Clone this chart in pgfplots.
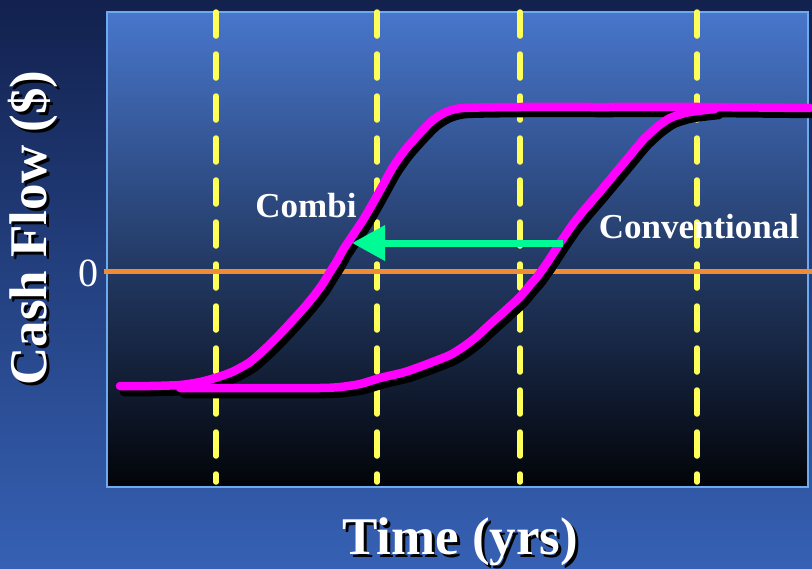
\documentclass[border=0pt]{standalone}
\usepackage{pgfplots}
\pgfplotsset{compat=1.18}
\usepackage{fontspec}
\setmainfont{Liberation Serif}
\usetikzlibrary{arrows.meta}

\definecolor{bgtop}{RGB}{18,33,78}
\definecolor{bgbot}{RGB}{54,97,180}
\definecolor{pltop}{RGB}{72,118,204}
\definecolor{plmid}{RGB}{48,76,134}
\definecolor{plbot}{RGB}{2,4,8}
\definecolor{frame}{RGB}{110,170,240}
\definecolor{cashmag}{RGB}{255,0,255}
\definecolor{dashyel}{RGB}{255,255,90}
\definecolor{zeroor}{RGB}{240,140,55}
\definecolor{shiftgr}{RGB}{0,250,150}

% cash-flow profiles (time, level) in drawing units, y measured downward
\pgfplotstableread{
x y
120 386
150 386
180 385
200 382
215 378
232 372
250 362
267 347
280 334
293 320
303 309
313 297
322 285
330 272
337 261
343 250
353 235
363 220
373 203
383 185
393 167
405 150
420 133
433 120
446 112
463 108
520 107
600 107
700 107
810 108
}\combi

\pgfplotstableread{
x y
180 388
250 388
320 388
340 387
360 384
380 378
405 372
430 363
450 355
463 347
475 338
487 327
497 318
507 309
520 297
530 285
537 277
547 263
560 243
573 224
585 209
598 194
613 176
628 158
643 140
657 127
670 118
685 113
697 111
715 109
}\conventional

\newcommand{\bigbold}{\fontsize{53}{60}\selectfont\bfseries}
\newcommand{\midbold}{\fontsize{35}{40}\selectfont\bfseries}

\begin{document}
\begin{tikzpicture}[x=1pt,y=1pt]
\shade[top color=bgtop, bottom color=bgbot] (0,0) rectangle (812,-569);
\begin{axis}[
  at={(107pt,-487pt)}, anchor=south west,
  width=701pt, height=475pt, scale only axis,
  xmin=107, xmax=808, ymin=12, ymax=487, y dir=reverse,
  clip=false,
  axis background/.style={shade, top color=pltop, middle color=plmid, bottom color=plbot},
  axis line style={draw=frame, line width=2pt},
  xtick=\empty, ytick={271}, yticklabels={0},
  major tick length=0pt,
  yticklabel style={font=\fontsize{40}{40}\selectfont, text=white, xshift=-5pt, yshift=-2pt},
]
% yellow time markers
\addplot[dashyel, line width=5.5pt, line cap=round, dash pattern=on 24pt off 18pt] coordinates {(216,12) (216,482)};
\addplot[dashyel, line width=5.5pt, line cap=round, dash pattern=on 24pt off 18pt] coordinates {(377,12) (377,482)};
\addplot[dashyel, line width=5.5pt, line cap=round, dash pattern=on 24pt off 18pt] coordinates {(520,12) (520,482)};
\addplot[dashyel, line width=5.5pt, line cap=round, dash pattern=on 24pt off 18pt] coordinates {(697,12) (697,482)};
% zero line
\addplot[zeroor, line width=5pt] coordinates {(104,271) (812,271)};
% shadows
\addplot[black, smooth, tension=0.4, line width=8.5pt, line cap=round, line join=round, xshift=4pt, yshift=-6pt] table {\conventional};
\addplot[black, smooth, tension=0.4, line width=8.5pt, line cap=round, line join=round, xshift=4pt, yshift=-6pt] table {\combi};
% profiles
\addplot[cashmag, smooth, tension=0.4, line width=8.5pt, line cap=round, line join=round] table {\conventional};
\addplot[cashmag, smooth, tension=0.4, line width=8.5pt, line cap=round, line join=round] table {\combi};
% shift arrow
\addplot[shiftgr, line width=7pt, -{Triangle[length=33pt,width=34pt]}] coordinates {(563,243) (352,243)};
% labels
\node[text=white, font=\midbold] at (axis cs:306,206) {Combi};
\node[text=white, font=\midbold] at (axis cs:699,227) {Conventional};
\node[text=black, font=\bigbold] at (axis cs:463,545) {Time (yrs)};
\node[text=white, font=\bigbold] at (axis cs:460,542) {Time (yrs)};
\node[text=black, font=\bigbold, rotate=90] at (axis cs:36,231) {Cash Flow (\$)};
\node[text=white, font=\bigbold, rotate=90] at (axis cs:33,228) {Cash Flow (\$)};
\end{axis}
\pgfresetboundingbox
\useasboundingbox (0,0) rectangle (812,-569);
\end{tikzpicture}
\end{document}
